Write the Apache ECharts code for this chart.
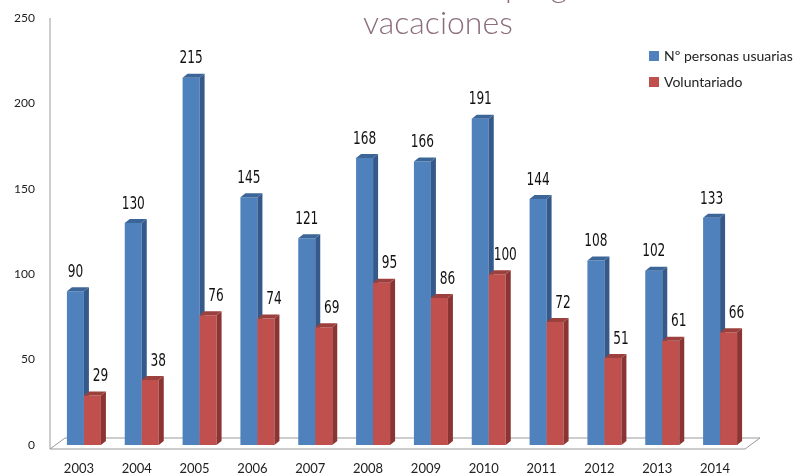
<!doctype html>
<html lang="es">
<head>
<meta charset="UTF-8">
<title>vacaciones</title>
<style>
    *{margin: 0; padding: 0}
    #block{width: 793px; height: 475px; background: #fff}
</style>
</head>
<body>
<div id="block"></div>
<script src="https://cdn.jsdelivr.net/npm/echarts@6/dist/echarts.min.js"></script>
<script>
    // datos
    const years = ['2003', '2004', '2005', '2006', '2007', '2008', '2009', '2010', '2011', '2012', '2013', '2014'];
    const usuarias = [90, 130, 215, 145, 121, 168, 166, 191, 144, 108, 102, 133];
    const voluntariado = [29, 38, 76, 74, 69, 95, 86, 100, 72, 51, 61, 66];
    const seriesNames = ['Nº personas usuarias', 'Voluntariado'];
    const yTicks = {min: 0, max: 250, interval: 50};

    const labelFont = "'DejaVu Sans Condensed', 'Liberation Sans Narrow', sans-serif";
    const axisFont = "Lato, 'Open Sans', sans-serif";

    // colores: frente, lado, arriba
    const palette = [
        {front: '#4f81bd', side: '#34598a', top: '#3d6698'},
        {front: '#c0504d', side: '#8a3533', top: '#9c403e'}
    ];

    const barW = 17, dx = 5, dy = -4;

    // barra 3D
    const makeBar = function(idx) {
        return function(params, api) {
            const i = api.value(0);
            const base = api.coord([i, 0]);
            const top = api.coord([i, api.value(1)]);
            const x = base[0] + (idx === 0 ? -12 : 5);
            const yB = base[1], yT = top[1];
            const c = palette[idx];
            return {
                type: 'group',
                children: [
                    {type: 'rect', shape: {x: x, y: yT, width: barW, height: yB - yT}, style: {fill: c.front}},
                    {type: 'polygon', shape: {points: [[x + barW, yT], [x + barW + dx, yT + dy], [x + barW + dx, yB + dy], [x + barW, yB]]}, style: {fill: c.side}},
                    {type: 'polygon', shape: {points: [[x, yT], [x + dx, yT + dy], [x + barW + dx, yT + dy], [x + barW, yT]]}, style: {fill: c.top}},
                    {type: 'text', x: x + barW / 2 + (idx === 0 ? 0 : 8), y: yT - 19, scaleX: 0.75, style: {
                        text: String(api.value(1)), align: 'center', verticalAlign: 'middle',
                        font: '18px ' + labelFont, fill: '#111'
                    }}
                ]
            };
        };
    };

    // suelo y pared
    const renderFloor = function(params, api) {
        const cs = params.coordSys;
        const x0 = cs.x, x1 = cs.x + cs.width, yTop = cs.y, yBot = cs.y + cs.height;
        const st = {stroke: '#9a9a9a', lineWidth: 1, fill: null};
        return {
            type: 'group',
            children: [
                {type: 'polygon', shape: {points: [[x0, yBot + 4], [x0 + 15, yBot - 7], [x1 + 16, yBot - 7], [x1 + 1, yBot + 4]]}, style: {fill: '#fff', stroke: '#9a9a9a', lineWidth: 1}},
                {type: 'line', shape: {x1: x0, y1: yTop, x2: x0, y2: yBot + 4}, style: st}
            ]
        };
    };

    const block = document.getElementById('block');
    const chart = echarts.init(block);

    let option = {
        animation: false,
        backgroundColor: '#fff',
        graphic: [
            {type: 'text', left: 505, top: -29, style: {text: 'programa de', font: '300 32px ' + axisFont, fill: '#8b6d7c'}},
            {type: 'text', left: 363, top: 8, style: {text: 'vacaciones', font: '300 32px ' + axisFont, fill: '#8b6d7c'}}
        ],
        legend: {
            data: seriesNames,
            orient: 'vertical',
            left: 644,
            top: 44,
            itemWidth: 10,
            itemHeight: 10,
            itemGap: 12,
            icon: 'rect',
            textStyle: {fontFamily: axisFont, fontSize: 14, color: '#222'}
        },
        grid: {left: 50, right: 49, top: 18, bottom: 29},
        xAxis: {
            type: 'category',
            data: years,
            axisLine: {show: false},
            axisTick: {show: false},
            axisLabel: {margin: 17, fontFamily: axisFont, fontSize: 13, color: '#222'}
        },
        yAxis: {
            type: 'value',
            min: yTicks.min,
            max: yTicks.max,
            interval: yTicks.interval,
            axisLine: {show: false},
            axisTick: {show: false},
            splitLine: {show: false},
            axisLabel: {margin: 15, padding: [6, 0, 0, 0], fontFamily: axisFont, fontSize: 12, color: '#222'}
        },
        series: [
            {type: 'custom', name: 'floor', renderItem: renderFloor, data: [[0, 0]], z: 1, silent: true},
            {
                type: 'custom', name: seriesNames[0], renderItem: makeBar(0), z: 2,
                itemStyle: {color: palette[0].front},
                data: usuarias.map((v, i) => [i, v])
            },
            {
                type: 'custom', name: seriesNames[1], renderItem: makeBar(1), z: 3,
                itemStyle: {color: palette[1].front},
                data: voluntariado.map((v, i) => [i, v])
            }
        ]
    };
    chart.setOption(option);
</script>
</body>
</html>
